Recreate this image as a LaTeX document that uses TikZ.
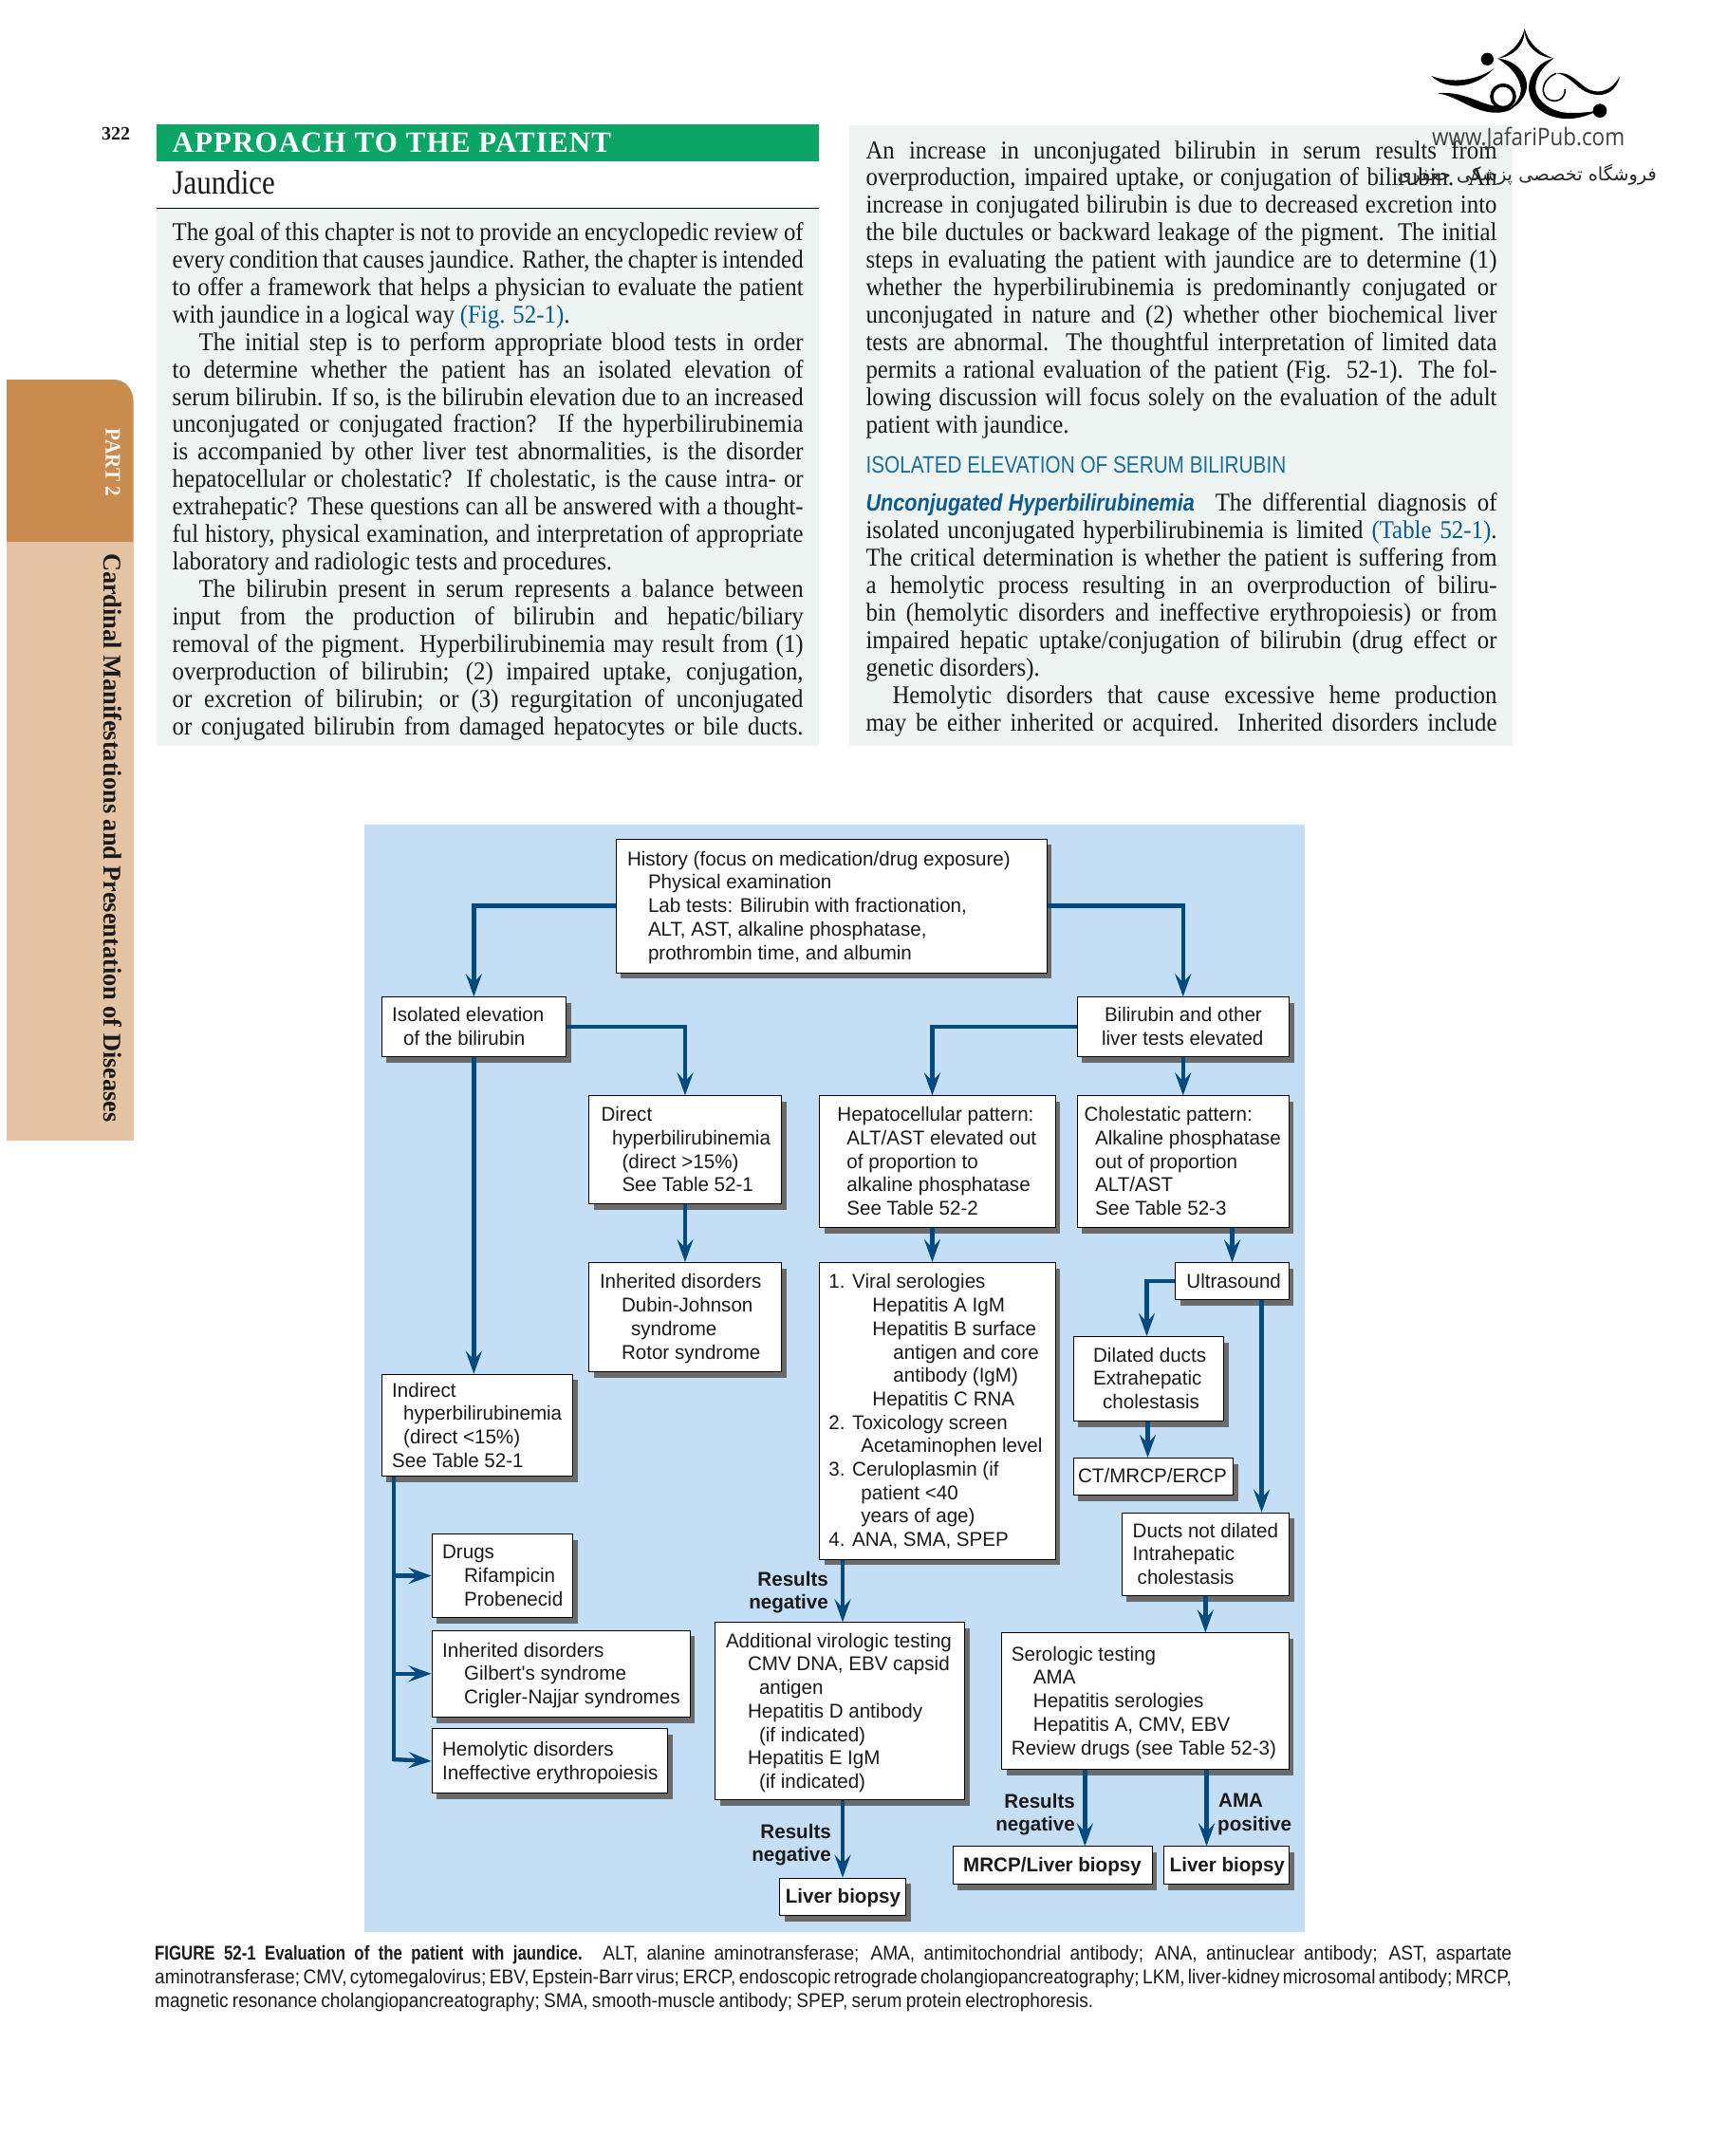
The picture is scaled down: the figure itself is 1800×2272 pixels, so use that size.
\documentclass[tikz,border=0pt]{standalone}
\usepackage{fontspec}
\usetikzlibrary{arrows.meta,shadows,calc}
\TeXXeTstate=1
\setmainfont{Liberation Serif}
\newfontfamily\bodyf[FakeStretch=0.92]{Liberation Serif}
\newfontfamily\jaunf[FakeStretch=0.86]{Liberation Serif}
\newfontfamily\bandf[LetterSpace=3.5]{Liberation Serif}
\newfontfamily\sidef[FakeStretch=0.975]{Liberation Serif}
\newfontfamily\partf[FakeStretch=0.92]{Liberation Serif}
\newfontfamily\flowf[FakeStretch=0.98]{Liberation Sans}
\newfontfamily\capf[FakeStretch=0.91]{Liberation Sans}
\newfontfamily\capbf[FakeStretch=0.80]{Liberation Sans}
\newfontfamily\headf[FakeStretch=0.83]{Liberation Sans}
\newfontfamily\unconf[FakeStretch=0.865]{Liberation Sans}
\newfontfamily\urlf[FakeStretch=0.88]{Open Sans}
\newfontfamily\arabicfont[Script=Arabic]{DejaVu Sans}
\definecolor{panelbg}{HTML}{EEF4F2}
\definecolor{flowbg}{HTML}{C4DEF5}
\definecolor{conncol}{HTML}{004A80}
\definecolor{bandgreen}{HTML}{0BA565}
\definecolor{sideor}{HTML}{C98B4E}
\definecolor{sidelt}{HTML}{E5C4A6}
\definecolor{linkblue}{HTML}{0B5A94}
\definecolor{headblue}{HTML}{1A6E9C}
\definecolor{inkcol}{HTML}{1A1A1A}
\newlength\linew
\newcommand\jl[1]{\hbox to \linew{#1}}
\newcommand\nl[1]{\hbox to \linew{#1\hfil}}
\newcommand\lnk[1]{\textcolor{linkblue}{#1}}
\newcommand\ii[1]{\hspace*{#1pt}}
\tikzset{
  flowbox/.style={draw=black,line width=1pt,fill=white,anchor=north west,inner sep=0pt,
    text=inkcol,font=\flowf\fontsize{21}{24.7}\selectfont,
    drop shadow={shadow xshift=5pt,shadow yshift=-6pt,fill=black!58,opacity=1}},
  conn/.style={draw=conncol,line width=4.4pt,-{Stealth[length=24pt,width=17pt,inset=9pt]}},
  connplain/.style={draw=conncol,line width=4.4pt},
  textlbl/.style={inner sep=0pt,font=\flowf\bfseries\fontsize{21}{24.7}\selectfont,text=inkcol},
  para/.style={anchor=base west,inner sep=0pt,text=inkcol,font=\bodyf\fontsize{27}{28.95}\selectfont},
  capline/.style={anchor=base west,inner sep=0pt,text=inkcol,font=\capf\fontsize{21}{25.3}\selectfont},
}
\newcommand\bx[7]{%
  \pgfmathsetlengthmacro\bw{#4-#2}\pgfmathsetlengthmacro\bh{#5-#3}%
  \node[flowbox,minimum width=\bw,minimum height=\bh] (#1) at (#2,#3)
    {\raisebox{-2pt}[\height][\depth]{\hbox to \bw{\hskip #6pt\begin{tabular}{@{}l@{}}#7\end{tabular}\hss}}};}
\begin{document}
\begin{tikzpicture}[x=1pt,y=-1pt]
\useasboundingbox (0,0) rectangle (1800,2272);
\fill[white] (0,0) rectangle (1800,2272);
% side tab
\fill[sidelt] (7,571) rectangle (140.7,1202);
\fill[sideor] (7,400) -- (120,400) .. controls (132,400) and (140.7,410) .. (140.7,424) -- (140.7,571) -- (7,571) -- cycle;
\node[rotate=-90,inner sep=0pt,text=white!92!sideor,font=\partf\bfseries\fontsize{23}{26}\selectfont] (parttab) at (119,487.5) {PART 2};
\node[rotate=-90,inner sep=0pt,text=inkcol,font=\sidef\bfseries\fontsize{27}{29}\selectfont] (parttitle) at (119,883) {Cardinal Manifestations and Presentation of Diseases};
% page number
\node[anchor=base west,inner sep=0pt,text=inkcol,font=\bfseries\fontsize{20}{22}\selectfont] (pageno) at (107,147) {322};
% left column
\fill[bandgreen] (164.8,131) rectangle (863.4,170);
\node[anchor=base west,inner sep=0pt,text=white,font=\bandf\bfseries\fontsize{31}{32}\selectfont] (bandtitle) at (181.4,160.5) {APPROACH TO THE PATIENT};
\node[anchor=base west,inner sep=0pt,text=inkcol,font=\jaunf\fontsize{36}{38}\selectfont] (jaund) at (181.4,204) {Jaundice};
\fill[panelbg] (164.8,220) rectangle (863.4,786);
\draw[black,line width=1pt] (164.8,219.5) -- (863.4,219.5);
\setlength\linew{665pt}
\node[para] (leftcol) at (181.4,253.5) {\vtop{\spaceskip=.22em plus 1em minus .12em\relax
\baselineskip=28.92pt
\jl{The goal of this chapter is not to provide an encyclopedic review of}
\jl{every condition that causes jaundice. Rather, the chapter is intended}
\jl{to offer a framework that helps a physician to evaluate the patient}
\nl{with jaundice in a logical way \lnk{(Fig. 52-1)}.}
\jl{\ii{28}The initial step is to perform appropriate blood tests in order}
\jl{to determine whether the patient has an isolated elevation of}
\jl{serum bilirubin. If so, is the bilirubin elevation due to an increased}
\jl{unconjugated or conjugated fraction? If the hyperbilirubinemia}
\jl{is accompanied by other liver test abnormalities, is the disorder}
\jl{hepatocellular or cholestatic? If cholestatic, is the cause intra- or}
\jl{extrahepatic? These questions can all be answered with a thought-}
\jl{ful history, physical examination, and interpretation of appropriate}
\nl{laboratory and radiologic tests and procedures.}
\jl{\ii{28}The bilirubin present in serum represents a balance between}
\jl{input from the production of bilirubin and hepatic/biliary}
\jl{removal of the pigment. Hyperbilirubinemia may result from (1)}
\jl{overproduction of bilirubin; (2) impaired uptake, conjugation,}
\jl{or excretion of bilirubin; or (3) regurgitation of unconjugated}
\jl{or conjugated bilirubin from damaged hepatocytes or bile ducts.}
}};
% right column
\fill[panelbg] (894.7,131.6) rectangle (1594,786);
\node[para] (rightcola) at (912.3,167) {\vtop{\spaceskip=.22em plus 1em minus .12em\relax
\baselineskip=28.96pt
\jl{An increase in unconjugated bilirubin in serum results from}
\jl{overproduction, impaired uptake, or conjugation of bilirubin. An}
\jl{increase in conjugated bilirubin is due to decreased excretion into}
\jl{the bile ductules or backward leakage of the pigment. The initial}
\jl{steps in evaluating the patient with jaundice are to determine (1)}
\jl{whether the hyperbilirubinemia is predominantly conjugated or}
\jl{unconjugated in nature and (2) whether other biochemical liver}
\jl{tests are abnormal. The thoughtful interpretation of limited data}
\jl{permits a rational evaluation of the patient (Fig. 52-1). The fol-}
\jl{lowing discussion will focus solely on the evaluation of the adult}
\nl{patient with jaundice.}
}};
\node[anchor=base west,inner sep=0pt,text=headblue,font=\headf\fontsize{25}{27}\selectfont] (isohead) at (912.3,498.5) {ISOLATED ELEVATION OF SERUM BILIRUBIN};
\node[para] (rightcolb) at (912.3,538) {\vtop{\spaceskip=.22em plus 1em minus .12em\relax
\baselineskip=29pt
\hbox to \linew{\textcolor{linkblue}{\unconf\bfseries\itshape\fontsize{25}{27}\selectfont\spaceskip=.25em\relax Unconjugated Hyperbilirubinemia}\hspace{22pt}The differential diagnosis of}
\jl{isolated unconjugated hyperbilirubinemia is limited \lnk{(Table 52-1)}.}
\jl{The critical determination is whether the patient is suffering from}
\jl{a hemolytic process resulting in an overproduction of biliru-}
\jl{bin (hemolytic disorders and ineffective erythropoiesis) or from}
\jl{impaired hepatic uptake/conjugation of bilirubin (drug effect or}
\nl{genetic disorders).}
\jl{\ii{28}Hemolytic disorders that cause excessive heme production}
\jl{may be either inherited or acquired. Inherited disorders include}
}};
% logo
\begin{scope}[shift={(1460,20)},x=.3333pt,y=-.3333pt,black]
\fill (440,30) .. controls (430,75) and (395,110) .. (355,125) .. controls (405,118) and (442,85) .. (440,30);
\fill (440,30) .. controls (450,75) and (490,110) .. (532,125) .. controls (482,120) and (438,85) .. (440,30);
\fill (355,125) .. controls (420,130) and (465,190) .. (440,240) .. controls (430,262) and (410,280) .. (385,288) .. controls (420,265) and (435,235) .. (425,205) .. controls (415,170) and (385,145) .. (355,125);
\fill (532,125) .. controls (480,135) and (445,190) .. (455,235) .. controls (465,285) and (520,320) .. (590,315) .. controls (620,312) and (650,302) .. (670,290) .. controls (640,295) and (600,300) .. (560,295) .. controls (510,285) and (470,250) .. (475,210) .. controls (480,170) and (505,145) .. (532,125);
\fill (742,180) .. controls (725,250) and (660,255) .. (610,215) .. controls (590,198) and (565,172) .. (540,172) .. controls (575,165) and (600,190) .. (630,215) .. controls (665,240) and (710,235) .. (742,180);
\draw[line width=1.6pt] (540,172) .. controls (505,185) and (485,225) .. (510,250) .. controls (535,270) and (570,255) .. (568,222);
\fill (145,180) .. controls (190,225) and (280,225) .. (345,155) .. controls (290,195) and (210,205) .. (145,180);
\fill (165,235) .. controls (230,245) and (270,290) .. (340,296) .. controls (370,298) and (395,290) .. (405,280) .. controls (370,282) and (330,275) .. (290,258) .. controls (250,242) and (210,230) .. (165,235);
\draw[line width=3.6pt] (372,245) circle[radius=36];
\fill (322,127) circle[radius=20];
\fill (678,290) circle[radius=22];
\end{scope}
\node[anchor=base west,inner sep=0pt,text=black!75,font=\urlf\fontsize{25.5}{28}\selectfont] (logourl) at (1509,153.5) {www.JafariPub.com};
\node[anchor=base east,inner sep=0pt,text=black!85,font=\arabicfont\fontsize{19.3}{20}\selectfont] (logofa) at (1746,190) {\beginR فروشگاه تخصصی پزشکی جعفری\endR};
% flowchart panel
\fill[flowbg] (384,869) rectangle (1375,2036);
\bx{hist}{648.5}{883.5}{1102.6}{1024.8}{12}{History (focus on medication/drug exposure)\\\ii{22}Physical examination\\\ii{22}Lab tests: Bilirubin with fractionation,\\\ii{22}ALT, AST, alkaline phosphatase,\\\ii{22}prothrombin time, and albumin}
\bx{iso}{401.7}{1050.3}{596}{1113}{11}{Isolated elevation\\\ii{12}of the bilirubin}
\bx{bil}{1134.5}{1050.3}{1358}{1113}{26}{\ii{3}Bilirubin and other\\liver tests elevated}
\bx{dir}{620}{1154.4}{823}{1268.2}{13}{Direct\\\ii{11.5}hyperbilirubinemia\\\ii{22}(direct >15\%)\\\ii{22}See Table 52-1}
\bx{hep}{863.4}{1154.4}{1111.5}{1293}{18.5}{Hepatocellular pattern:\\\ii{10}ALT/AST elevated out\\\ii{10}of proportion to\\\ii{10}alkaline phosphatase\\\ii{10}See Table 52-2}
\bx{chol}{1134.5}{1154.4}{1357.7}{1293}{7.6}{Cholestatic pattern:\\\ii{11.5}Alkaline phosphatase\\\ii{11.5}out of proportion\\\ii{11.5}ALT/AST\\\ii{11.5}See Table 52-3}
\bx{inha}{620}{1330}{823}{1445}{11.5}{Inherited disorders\\\ii{23}Dubin-Johnson\\\ii{33}syndrome\\\ii{23}Rotor syndrome}
\bx{viral}{863.4}{1330}{1111.5}{1642.6}{9.5}{1. Viral serologies\\\ii{46}Hepatitis A IgM\\\ii{46}Hepatitis B surface\\\ii{68}antigen and core\\\ii{68}antibody (IgM)\\\ii{46}Hepatitis C RNA\\2. Toxicology screen\\\ii{34}Acetaminophen level\\3. Ceruloplasmin (if\\\ii{34}patient <40\\\ii{34}years of age)\\4. ANA, SMA, SPEP}
\bx{ultra}{1238.4}{1330.4}{1357.7}{1369}{11.5}{Ultrasound}
\bx{dil}{1130.6}{1408}{1289.4}{1497}{21}{Dilated ducts\\Extrahepatic\\\ii{10}cholestasis}
\bx{ct}{1130.6}{1536}{1299}{1575}{5}{CT/MRCP/ERCP}
\bx{duct}{1181.7}{1593.6}{1358}{1681}{11.5}{Ducts not dilated\\Intrahepatic\\\ii{5}cholestasis}
\bx{ind}{401.7}{1447.8}{603}{1555.4}{11}{Indirect\\\ii{12}hyperbilirubinemia\\\ii{12}(direct <15\%)\\See Table 52-1}
\bx{drug}{454.6}{1616}{603.2}{1704}{11}{Drugs\\\ii{23}Rifampicin\\\ii{23}Probenecid}
\bx{inhb}{454.6}{1717.5}{726.6}{1809}{11}{Inherited disorders\\\ii{23}Gilbert's syndrome\\\ii{23}Crigler-Najjar syndromes}
\bx{hemo}{454.6}{1821.4}{703.3}{1889.3}{11}{Hemolytic disorders\\Ineffective erythropoiesis}
\bx{addv}{753}{1709.3}{1016}{1896.4}{11.5}{Additional virologic testing\\\ii{23}CMV DNA, EBV capsid\\\ii{35}antigen\\\ii{23}Hepatitis D antibody\\\ii{35}(if indicated)\\\ii{23}Hepatitis E IgM\\\ii{35}(if indicated)}
\bx{sero}{1055.4}{1720.4}{1357.7}{1864}{10}{Serologic testing\\\ii{23}AMA\\\ii{23}Hepatitis serologies\\\ii{23}Hepatitis A, CMV, EBV\\Review drugs (see Table 52-3)}
\bx{mrcp}{1003.7}{1945.4}{1213.5}{1985}{11}{\bfseries MRCP/Liver biopsy}
\bx{lbr}{1225.7}{1945.4}{1358}{1985}{6.5}{\bfseries Liver biopsy}
\bx{lbb}{821.3}{1978.6}{954}{2018}{6}{\bfseries Liver biopsy}
% connectors
\draw[conn] (hist.west) -| (iso.north);
\draw[conn] (hist.east) -| (bil.north);
\draw[conn] (iso.east) -| (dir.north);
\draw[conn] (iso.south) -- (iso.south |- ind.north);
\draw[conn] (dir.south) -- (inha.north);
\draw[conn] (bil.west) -| ([xshift=-5.5pt]hep.north);
\draw[conn] (bil.south) -- (bil.south |- chol.north);
\draw[conn] ([xshift=-5.5pt]hep.south) -- ([xshift=-5.5pt]hep.south |- viral.north);
\draw[conn] (ultra.north |- chol.south) -- (ultra.north);
\draw[conn] (ultra.west) -| ([xshift=-2pt]dil.north);
\draw[conn] ([xshift=31pt]ultra.south) -- ([xshift=31pt]ultra.south |- duct.north);
\draw[conn] ([xshift=-1pt]dil.south) -- ([xshift=-1pt]dil.south |- ct.north);
\coordinate (bustop) at ([xshift=13.3pt]ind.south west);
\draw[connplain] (bustop) -- (bustop |- hemo.west);
\draw[conn] (bustop |- drug.west) -- (drug.west);
\draw[conn] (bustop |- inhb.west) -- (inhb.west);
\draw[conn] ([yshift=1.8pt]bustop |- hemo.west) -- (hemo.west);
\coordinate (vout) at ([xshift=-224.5pt]viral.south east);
\draw[conn] (vout) -- (vout |- addv.north);
\draw[conn] (vout |- addv.south) -- (vout |- lbb.north);
\draw[conn] (duct.south) -- (duct.south |- sero.north);
\draw[conn] ([xshift=-63.7pt]sero.south) -- ([xshift=-63.7pt]sero.south |- mrcp.north);
\draw[conn] ([xshift=64.5pt]sero.south) -- ([xshift=64.5pt]sero.south |- lbr.north);
% edge labels
\node[textlbl,anchor=east,align=right] (lblA) at (873,1678) {Results\\negative};
\node[textlbl,anchor=east,align=right] (lblB) at (876,1944) {Results\\negative};
\node[textlbl,anchor=east,align=right] (lblC) at (1133,1912) {Results\\negative};
\node[textlbl,anchor=west,align=left] (lblD) at (1283,1912) {\hspace*{1pt}AMA\\positive};
% caption
\setlength\linew{1430pt}
\node[capline] (caption) at (163,2065) {\vtop{\spaceskip=.2em plus 1em minus .1em\relax
\baselineskip=25.3pt
\jl{{\capbf\bfseries FIGURE 52-1 Evaluation of the patient with jaundice.} ALT, alanine aminotransferase; AMA, antimitochondrial antibody; ANA, antinuclear antibody; AST, aspartate}
\jl{aminotransferase; CMV, cytomegalovirus; EBV, Epstein-Barr virus; ERCP, endoscopic retrograde cholangiopancreatography; LKM, liver-kidney microsomal antibody; MRCP,}
\nl{magnetic resonance cholangiopancreatography; SMA, smooth-muscle antibody; SPEP, serum protein electrophoresis.}
}};
\end{tikzpicture}
\end{document}
